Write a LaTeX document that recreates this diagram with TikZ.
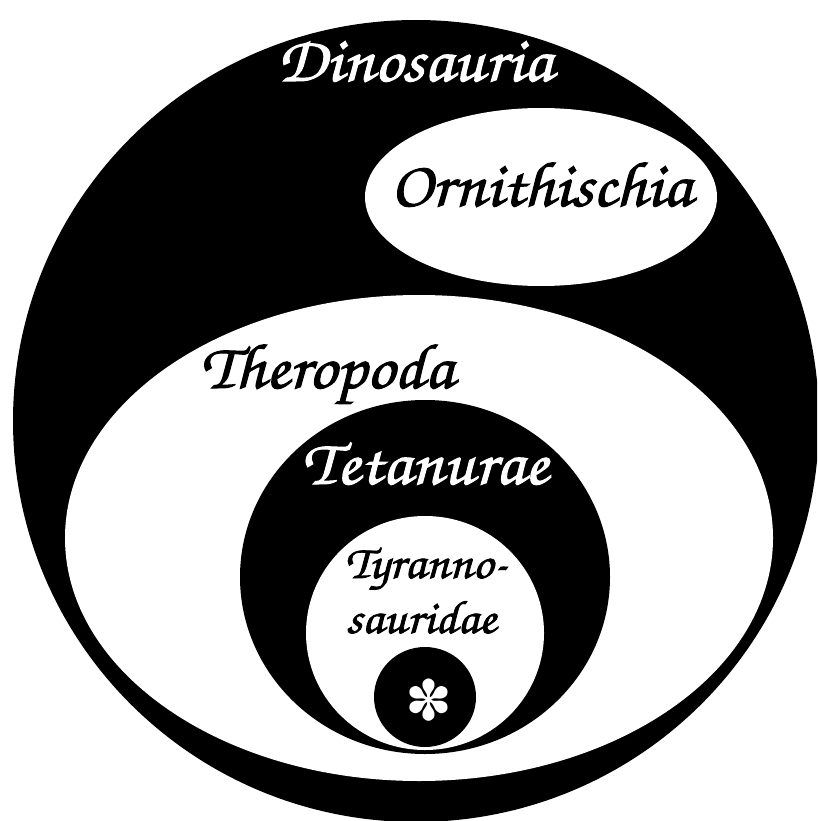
\documentclass[tikz,border=0pt]{standalone}
\usepackage{fontspec}
\newfontfamily\djv{DejaVu Sans}
\newfontfamily\chanc[FakeBold=1.6,FakeStretch=1.08]{TeX Gyre Chorus}
\begin{document}
\begin{tikzpicture}[x=1pt,y=-1pt,
  lbl/.style={inner sep=0pt,font=\chanc\fontsize{64}{68}\selectfont},
  small/.style={inner sep=0pt,align=center,font=\chanc\fontsize{47}{52}\selectfont}]
\useasboundingbox (0,0) rectangle (817,821);
\clip (0,0) rectangle (817,821);
\fill[white] (0,0) rectangle (817,821);
\fill[black] (416,421) ellipse [x radius=403, y radius=401];
\fill[white] (541,197) ellipse [x radius=176, y radius=89];
\fill[white] (419,538) ellipse [x radius=354, y radius=243];
\fill[black] (425,577) ellipse [x radius=185, y radius=177];
\fill[white] (425,633) ellipse [x radius=119, y radius=117];
\fill[black] (425,697) ellipse [x radius=51, y radius=50];
\node[lbl,white,anchor=base] (dino) at (415,81) {Dinosauria};
\node[lbl,black,anchor=base] (orni) at (541,206) {Ornithischia};
\node[lbl,black,anchor=base] (thero) at (327,388) {Theropoda};
\node[lbl,white,anchor=base] (teta) at (425,484) {Tetanurae};
\node[small,black,anchor=base] (tyr1) at (426,578) {Tyranno-};
\node[small,black,anchor=base] (tyr2) at (421,633) {sauridae};
\node[white,inner sep=0pt,font=\djv\fontsize{56}{60}\selectfont] (ast) at (429,700) {✽};
\end{tikzpicture}
\end{document}
